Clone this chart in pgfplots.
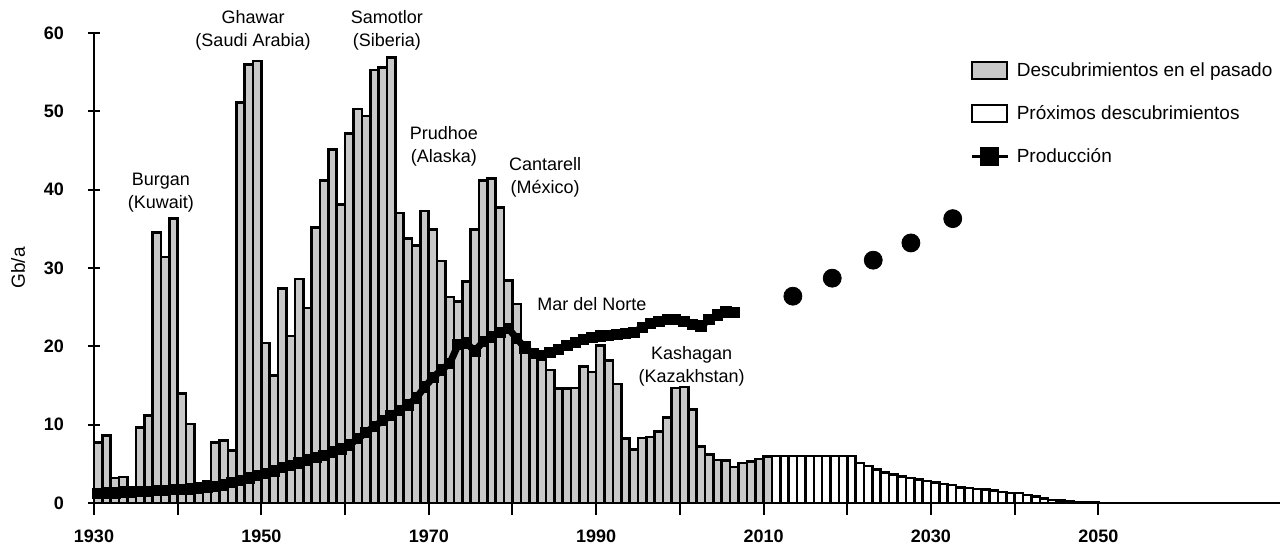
\documentclass[border=0pt]{standalone}
\usepackage{fontspec}
\setmainfont{Liberation Sans}
\usepackage{pgfplots}
\pgfplotsset{compat=1.18}
\usepackage{pgfplotstable}

\definecolor{barfill}{RGB}{200,200,200}
\newcommand{\annot}{\fontsize{9}{11.5}\selectfont}
\newcommand{\legfont}{\fontsize{9.5}{11.5}\selectfont}

\pgfplotstableread{
year v
1930 7.7
1931 8.6
1932 3.2
1933 3.3
1934 1.0
1935 9.6
1936 11.2
1937 34.5
1938 31.4
1939 36.3
1940 14.0
1941 10.1
1942 1.5
1943 2.8
1944 7.7
1945 8.0
1946 6.7
1947 51.1
1948 56.0
1949 56.4
1950 20.4
1951 16.3
1952 27.4
1953 21.3
1954 28.6
1955 24.9
1956 35.2
1957 41.2
1958 45.1
1959 38.1
1960 47.2
1961 50.3
1962 49.4
1963 55.3
1964 55.6
1965 56.9
1966 37.0
1967 33.8
1968 32.9
1969 37.3
1970 34.9
1971 30.9
1972 26.3
1973 25.7
1974 28.3
1975 34.9
1976 41.2
1977 41.4
1978 37.7
1979 28.4
1980 25.4
1981 20.5
1982 19.5
1983 19.0
1984 17.0
1985 14.6
1986 14.6
1987 14.7
1988 17.4
1989 16.7
1990 20.1
1991 18.2
1992 15.2
1993 8.2
1994 6.8
1995 8.3
1996 8.4
1997 9.1
1998 10.9
1999 14.7
2000 14.8
2001 11.9
2002 7.2
2003 6.2
2004 5.5
2005 5.4
2006 4.6
2007 5.1
2008 5.3
2009 5.6
2010 5.9
}\pastdisc

\pgfplotstableread{
year v
2011 6.0
2012 6.0
2013 6.0
2014 6.0
2015 6.0
2016 6.0
2017 6.0
2018 6.0
2019 6.0
2020 6.0
2021 5.1
2022 4.7
2023 4.3
2024 3.9
2025 3.6
2026 3.4
2027 3.2
2028 3.0
2029 2.8
2030 2.6
2031 2.4
2032 2.3
2033 2.0
2034 1.9
2035 1.8
2036 1.7
2037 1.6
2038 1.4
2039 1.3
2040 1.3
2041 1.0
2042 0.8
2043 0.6
2044 0.4
2045 0.35
2046 0.25
2047 0.15
2048 0.1
2049 0.05
}\futuredisc

\pgfplotstableread{
year v
1930 1.2
1931 1.3
1932 1.3
1933 1.4
1934 1.4
1935 1.5
1936 1.5
1937 1.6
1938 1.6
1939 1.7
1940 1.7
1941 1.8
1942 1.9
1943 2.0
1944 2.1
1945 2.3
1946 2.6
1947 2.9
1948 3.2
1949 3.5
1950 3.8
1951 4.1
1952 4.5
1953 4.8
1954 5.1
1955 5.5
1956 5.8
1957 6.1
1958 6.5
1959 6.9
1960 7.4
1961 8.2
1962 9.0
1963 9.8
1964 10.5
1965 11.2
1966 11.8
1967 12.5
1968 13.4
1969 14.8
1970 16.0
1971 17.0
1972 17.8
1973 20.2
1974 20.4
1975 19.4
1976 20.6
1977 21.2
1978 21.8
1979 22.3
1980 21.0
1981 19.8
1982 19.1
1983 18.8
1984 19.2
1985 19.6
1986 20.1
1987 20.5
1988 20.9
1989 21.1
1990 21.3
1991 21.4
1992 21.5
1993 21.6
1994 21.8
1995 22.4
1996 22.9
1997 23.2
1998 23.4
1999 23.4
2000 23.2
2001 22.8
2002 22.6
2003 23.4
2004 24.0
2005 24.4
2006 24.3
}\production

\pgfplotstableread{
year v
2013.5 26.4
2018.2 28.7
2023.1 31.0
2027.6 33.2
2032.6 36.3
}\forecast

\begin{document}
\begin{tikzpicture}
\path[use as bounding box] (-47pt,-20.5pt) rectangle (594.5pt,251.5pt);
\begin{axis}[
  at={(0pt,0pt)}, anchor=south west,
  scale only axis, width=593pt, height=235pt,
  xmin=1930, xmax=2071.7, ymin=0, ymax=60,
  axis lines*=left,
  axis line style={line width=1pt, black},
  xtick align=outside, ytick align=center,
  major tick length=6pt,
  every tick/.style={line width=1pt, black},
  xtick={1930,1940,...,2050},
  xticklabels={1930,,1950,,1970,,1990,,2010,,2030,,2050},
  ytick={0,10,...,60},
  /pgf/number format/assume math mode=true,
  ticklabel style={font=\fontsize{9}{11}\selectfont\bfseries},
  xticklabel style={yshift=-4pt},
  yticklabel style={xshift=-8.5pt},
  ylabel={Gb/a},
  ylabel style={at={(axis description cs:-0.064,0.5)}, anchor=center, font=\legfont},
  clip=false,
  legend style={at={(axis description cs:0.7386,0.947)}, anchor=north west,
    draw=none, fill=none, font=\legfont, row sep=9pt, inner sep=0pt,
    cells={anchor=west}, /tikz/every odd column/.append style={column sep=2pt}},
  legend cell align=left,
]
\addplot[ybar, bar width=1, bar shift=0pt, draw=black, line width=1.3pt, fill=barfill,
  legend image code/.code={\draw[black, line width=1pt, fill=barfill] (0pt,-4.25pt) rectangle (17.5pt,4.25pt);}]
  table[x expr=\thisrow{year}+0.5, y=v] {\pastdisc};
\addlegendentry{Descubrimientos en el pasado}
\addplot[ybar, bar width=1, bar shift=0pt, draw=black, line width=1.3pt, fill=white,
  legend image code/.code={\draw[black, line width=1pt, fill=white] (0pt,-4.25pt) rectangle (17.5pt,4.25pt);}]
  table[x expr=\thisrow{year}+0.5, y=v] {\futuredisc};
\addlegendentry{Próximos descubrimientos}
\addplot[black, line width=3.5pt, mark=square*, mark size=2.6pt, mark options={line width=0.5pt},
  legend image code/.code={\draw[black, line width=1.2pt] (0pt,0pt) -- (18pt,0pt); \fill[black] (6pt,-3pt) rectangle (12pt,3pt);}]
  table[x expr=\thisrow{year}+0.5, y=v] {\production};
\addlegendentry{Producción}
\addplot[only marks, mark=*, mark size=4.5pt, black, forget plot]
  table[x=year, y=v] {\forecast};

\node[align=center, font=\annot] at (axis cs:1938,39.6) {Burgan\\(Kuwait)};
\node[align=center, font=\annot] at (axis cs:1949,60.3) {Ghawar\\(Saudi Arabia)};
\node[align=center, font=\annot] at (axis cs:1965,60.3) {Samotlor\\(Siberia)};
\node[align=center, font=\annot] at (axis cs:1971.8,45.5) {Prudhoe\\(Alaska)};
\node[align=center, font=\annot] at (axis cs:1983.9,41.6) {Cantarell\\(México)};
\node[align=center, font=\annot] at (axis cs:1989.5,25.4) {Mar del Norte};
\node[align=center, font=\annot] at (axis cs:2001.4,17.5) {Kashagan\\(Kazakhstan)};
\end{axis}
\end{tikzpicture}
\end{document}
